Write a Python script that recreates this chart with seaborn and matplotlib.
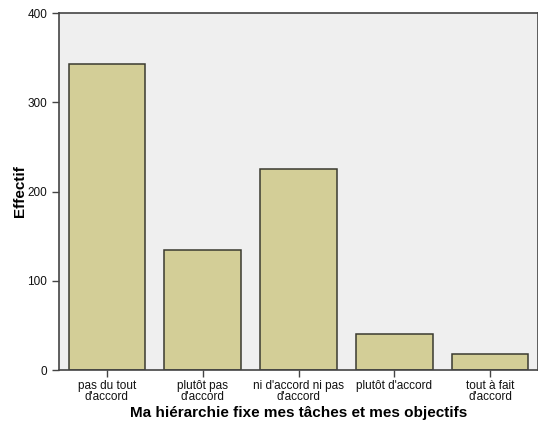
import pandas as pd
import seaborn as sns
import matplotlib.pyplot as plt

# Réponses et effectifs
CATEGORIES = ['pas du tout\nd\'accord', 'plutôt pas\nd\'accord',
              'ni d\'accord ni pas\nd\'accord', 'plutôt d\'accord',
              'tout à fait\nd\'accord']
COUNTS = [343, 134, 225, 40, 18]
Y_TICKS = [0, 100, 200, 300, 400]

BAR_COLOR = '#d3ce97'
EDGE_COLOR = '#3a3a30'
BG_COLOR = '#efefef'


def main() -> None:
    sns.set_style('white')
    plt.rcParams['font.family'] = ['Liberation Sans', 'DejaVu Sans']

    df = pd.DataFrame({'reponse': CATEGORIES, 'effectif': COUNTS})

    fig = plt.figure(figsize=(5.38, 4.28), dpi=100)
    ax = fig.add_axes([0.1097, 0.1355, 0.8903, 0.834])
    sns.barplot(
        x='reponse', y='effectif', data=df, order=CATEGORIES,
        color=BAR_COLOR, edgecolor=EDGE_COLOR, linewidth=1.1,
        width=0.8, saturation=1, ax=ax
    )
    ax.set_facecolor(BG_COLOR)
    ax.set_xlim(-0.5, 4.5)
    ax.set_ylim(0, 400)
    ax.set_yticks(Y_TICKS)

    for side in ['left', 'bottom', 'top', 'right']:
        ax.spines[side].set_color('#444444')
        ax.spines[side].set_linewidth(1.2)

    ax.tick_params(axis='both', direction='out', length=5, width=1,
                   color='#444444', labelsize=8.5, labelcolor='#111111',
                   left=True, bottom=True)
    ax.tick_params(axis='x', pad=2)
    for lbl in ax.get_xticklabels():
        lbl.set_linespacing(0.9)

    ax.set_xlabel('Ma hiérarchie fixe mes tâches et mes objectifs',
                  fontsize=11, fontweight='bold', labelpad=2, color='black')
    ax.set_ylabel('Effectif', fontsize=11, fontweight='bold', labelpad=0,
                  color='black')

    fig.savefig('out.png', dpi=100)
    plt.close(fig)


if __name__ == '__main__':
    main()
